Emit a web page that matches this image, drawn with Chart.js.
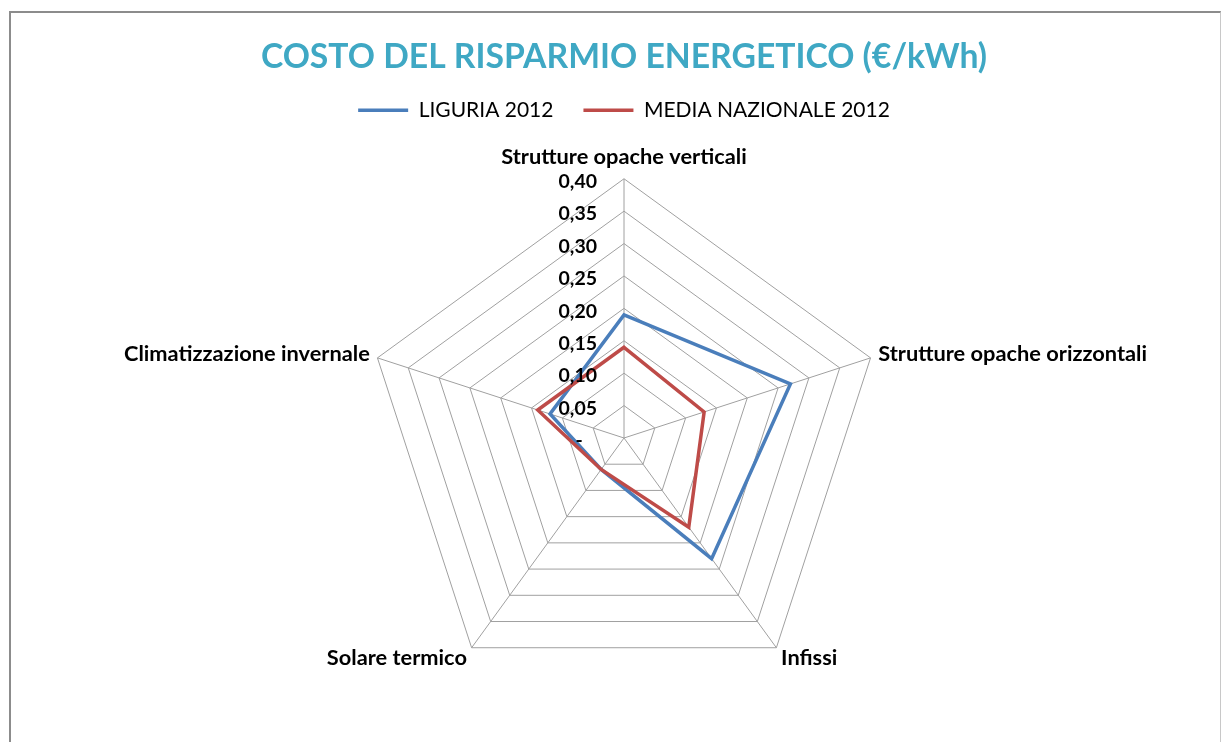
<!DOCTYPE html>
<html>
<head>
<meta charset="utf-8">
<script src="https://cdn.jsdelivr.net/npm/chart.js@4.4.1/dist/chart.umd.min.js"></script>
<style>
  html, body { margin: 0; padding: 0; background: #fff; overflow: hidden; }
  #frame {
    position: absolute; left: 9px; top: 11px; width: 1209px; height: 760px;
    border-left: 2px solid #8c8c8c; border-top: 2px solid #8c8c8c; border-right: 1px solid #c8c8c8;
  }
  #wrap { position: absolute; left: 11px; top: 13px; width: 1207px; height: 729px; }
</style>
</head>
<body>
<div id="frame"></div>
<div id="wrap"><canvas id="chart"></canvas></div>
<script>
// categorie (assi del radar)
const categories = [
  'Strutture opache verticali',
  'Strutture opache orizzontali',
  'Infissi',
  'Solare termico',
  'Climatizzazione invernale'
];
// €/kWh
const liguria2012 = [0.19, 0.27, 0.23, 0.06, 0.12];
const media2012 = [0.14, 0.13, 0.17, 0.06, 0.14];
// etichette della scala
const tickValues = [0, 0.05, 0.10, 0.15, 0.20, 0.25, 0.30, 0.35, 0.40];
const tickLabels = ['-   ', '0,05', '0,10', '0,15', '0,20', '0,25', '0,30', '0,35', '0,40'];

const FONT = 'Lato, "Open Sans", sans-serif';
// altezza riga e distanza delle etichette per asse: in Excel quelle laterali stanno centrate sul vertice
const labelLineHeight = [0.92, 0.1, 0.32, 0.32, 0.1];
const labelPadding = [12, 8, 8, 8, 8];

// etichette della scala a sinistra dell'asse verticale, come in Excel
const tickLabelPlugin = {
  id: 'tickLabelsLeft',
  afterDatasetsDraw(chart) {
    const r = chart.scales.r;
    const ctx = chart.ctx;
    ctx.save();
    ctx.font = 'bold 19.5px ' + FONT;
    ctx.fillStyle = '#000';
    ctx.textAlign = 'right';
    ctx.textBaseline = 'middle';
    tickValues.forEach((v, i) => {
      const y = r.yCenter - r.getDistanceFromCenterForValue(v);
      ctx.fillText(tickLabels[i], r.xCenter - 27, y + 3);
    });
    ctx.restore();
  }
};

new Chart(document.getElementById('chart'), {
  type: 'radar',
  data: {
    labels: categories,
    datasets: [
      {
        label: 'LIGURIA 2012',
        data: liguria2012,
        borderColor: '#4a7ebb',
        backgroundColor: '#4a7ebb',
        borderWidth: 3.5,
        pointRadius: 0,
        fill: false,
        order: 1
      },
      {
        label: 'MEDIA NAZIONALE 2012',
        data: media2012,
        borderColor: '#be4b48',
        backgroundColor: '#be4b48',
        borderWidth: 3.5,
        pointRadius: 0,
        fill: false,
        order: 0
      }
    ]
  },
  options: {
    responsive: true,
    maintainAspectRatio: false,
    animation: false,
    layout: { padding: { left: 19, right: 0, top: 0, bottom: 27 } },
    plugins: {
      title: {
        display: true,
        text: 'COSTO DEL RISPARMIO ENERGETICO (€/kWh)',
        color: '#3fa8c4',
        font: { family: FONT, size: 33.7, weight: 'bold', lineHeight: 1 },
        padding: { top: 27, bottom: -4 }
      },
      legend: {
        reverse: true,
        labels: {
          usePointStyle: true,
          pointStyle: 'line',
          pointStyleWidth: 50,
          color: '#000',
          font: { family: FONT, size: 21 },
          padding: 30
        }
      },
      tooltip: { enabled: false }
    },
    scales: {
      r: {
        min: 0,
        max: 0.4,
        ticks: { stepSize: 0.05, display: false },
        grid: { color: '#a0a0a0', lineWidth: 1 },
        angleLines: { color: '#a0a0a0', lineWidth: 1 },
        pointLabels: {
          color: '#000',
          font: (ctx) => ({ family: FONT, size: 21.8, weight: 'bold', lineHeight: labelLineHeight[ctx.index] }),
          padding: (ctx) => labelPadding[ctx.index]
        }
      }
    }
  },
  plugins: [tickLabelPlugin]
});
</script>
</body>
</html>
